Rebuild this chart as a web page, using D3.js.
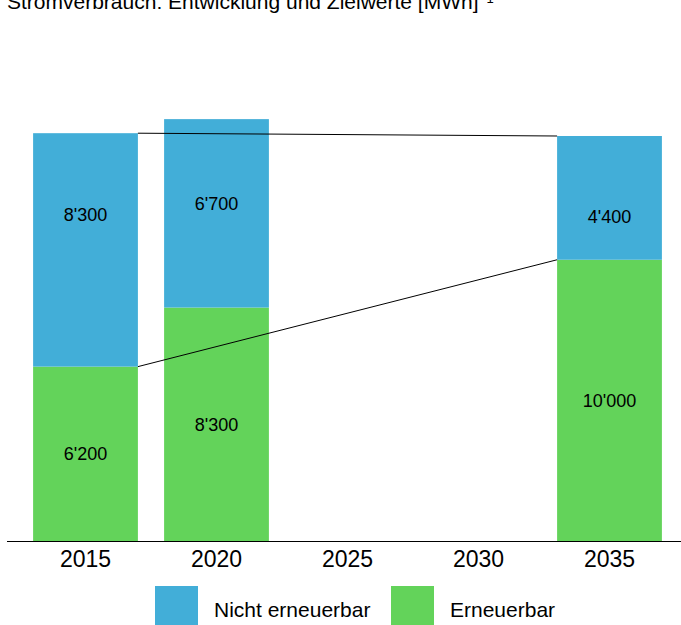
<!DOCTYPE html>
<html lang="de">
<head>
  <meta charset="UTF-8">
  <title>Stromverbrauch</title>
  <style>
    body { margin: 0; background: #fff; }
    svg { display: block; font-family: "Liberation Sans", Arial, sans-serif; }
  </style>
</head>
<body>
  <svg></svg>
  <script src="https://cdn.jsdelivr.net/npm/d3@7"></script>
  <script>
    // Daten
    var years = ["2015", "2020", "2025", "2030", "2035"];
    var barYears = ["2015", "2020", "2035"];
    var erneuerbar = [6200, 8300, 10000];
    var nichtErneuerbar = [8300, 6700, 4400];
    var seriesNames = ["Nicht erneuerbar", "Erneuerbar"];
    var colors = ["#42aed8", "#63d35a"];

    var width = 681, height = 625;
    var baseY = 541;

    var svg = d3.select("svg")
      .attr("width", width)
      .attr("height", height);

    var x = d3.scaleBand()
      .domain(years)
      .range([20, 675])
      .paddingInner(0.2)
      .paddingOuter(0.1);

    var y = d3.scaleLinear()
      .domain([0, 16000])
      .range([baseY, 91]);

    var fmt = function (v) {
      return d3.format(",")(v).replace(/,/g, "'");
    };

    var rows = barYears.map(function (yr, i) {
      return { year: yr, green: erneuerbar[i], blue: nichtErneuerbar[i], total: erneuerbar[i] + nichtErneuerbar[i] };
    });

    // Titel
    var title = svg.append("text")
      .attr("x", 7)
      .attr("y", 9)
      .attr("font-size", "21px")
      .attr("fill", "#000")
      .text("Stromverbrauch: Entwicklung und Zielwerte [MWh]");
    title.append("tspan")
      .attr("font-size", "13px")
      .attr("dx", 8)
      .attr("dy", -6)
      .text("1");

    // Balken
    var bars = svg.append("g");
    bars.selectAll("rect.green")
      .data(rows)
      .join("rect")
      .attr("class", "green")
      .attr("x", d => x(d.year))
      .attr("y", d => y(d.green))
      .attr("width", x.bandwidth())
      .attr("height", d => y(0) - y(d.green))
      .attr("fill", colors[1]);

    bars.selectAll("rect.blue")
      .data(rows)
      .join("rect")
      .attr("class", "blue")
      .attr("x", d => x(d.year))
      .attr("y", d => y(d.total))
      .attr("width", x.bandwidth())
      .attr("height", d => y(d.green) - y(d.total))
      .attr("fill", colors[0]);

    // Beschriftungen
    var labels = svg.append("g")
      .attr("font-size", "18px")
      .attr("text-anchor", "middle")
      .attr("fill", "#000");
    labels.selectAll("text.g")
      .data(rows)
      .join("text")
      .attr("class", "g")
      .attr("x", d => x(d.year) + x.bandwidth() / 2)
      .attr("y", d => y(d.green / 2))
      .attr("dy", "0.35em")
      .text(d => fmt(d.green));
    labels.selectAll("text.b")
      .data(rows)
      .join("text")
      .attr("class", "b")
      .attr("x", d => x(d.year) + x.bandwidth() / 2)
      .attr("y", d => y(d.total * 0.8))
      .attr("dy", "0.35em")
      .text(d => fmt(d.blue));

    // Achse
    var axis = svg.append("g")
      .attr("transform", `translate(0, ${baseY})`)
      .call(d3.axisBottom(x).tickSize(0).tickPadding(10));
    axis.select(".domain").remove();
    axis.selectAll("text")
      .attr("font-size", "23px")
      .attr("font-family", "Liberation Sans, Arial, sans-serif")
      .attr("fill", "#000");
    svg.append("line")
      .attr("x1", 7).attr("x2", width)
      .attr("y1", baseY + 0.5).attr("y2", baseY + 0.5)
      .attr("stroke", "#000")
      .attr("stroke-width", 1);

    // Verbindungslinien 2015 -> 2035
    var first = rows[0], last = rows[rows.length - 1];
    var links = [
      [first.total, last.total],
      [first.green, last.green]
    ];
    svg.append("g").selectAll("line")
      .data(links)
      .join("line")
      .attr("x1", x(first.year) + x.bandwidth())
      .attr("x2", x(last.year))
      .attr("y1", d => y(d[0]))
      .attr("y2", d => y(d[1]))
      .attr("stroke", "#000")
      .attr("stroke-width", 1);

    // Legende
    var legend = svg.append("g")
      .attr("font-size", "21px")
      .attr("fill", "#000");
    var legendX = [155, 391];
    var item = legend.selectAll("g")
      .data(seriesNames)
      .join("g")
      .attr("transform", (d, i) => `translate(${legendX[i]}, 586)`);
    item.append("rect")
      .attr("width", 43)
      .attr("height", 43)
      .attr("fill", (d, i) => colors[i]);
    item.append("text")
      .attr("x", (d, i) => i === 0 ? 59 : 59)
      .attr("y", 31)
      .text(d => d);
  </script>
</body>
</html>
